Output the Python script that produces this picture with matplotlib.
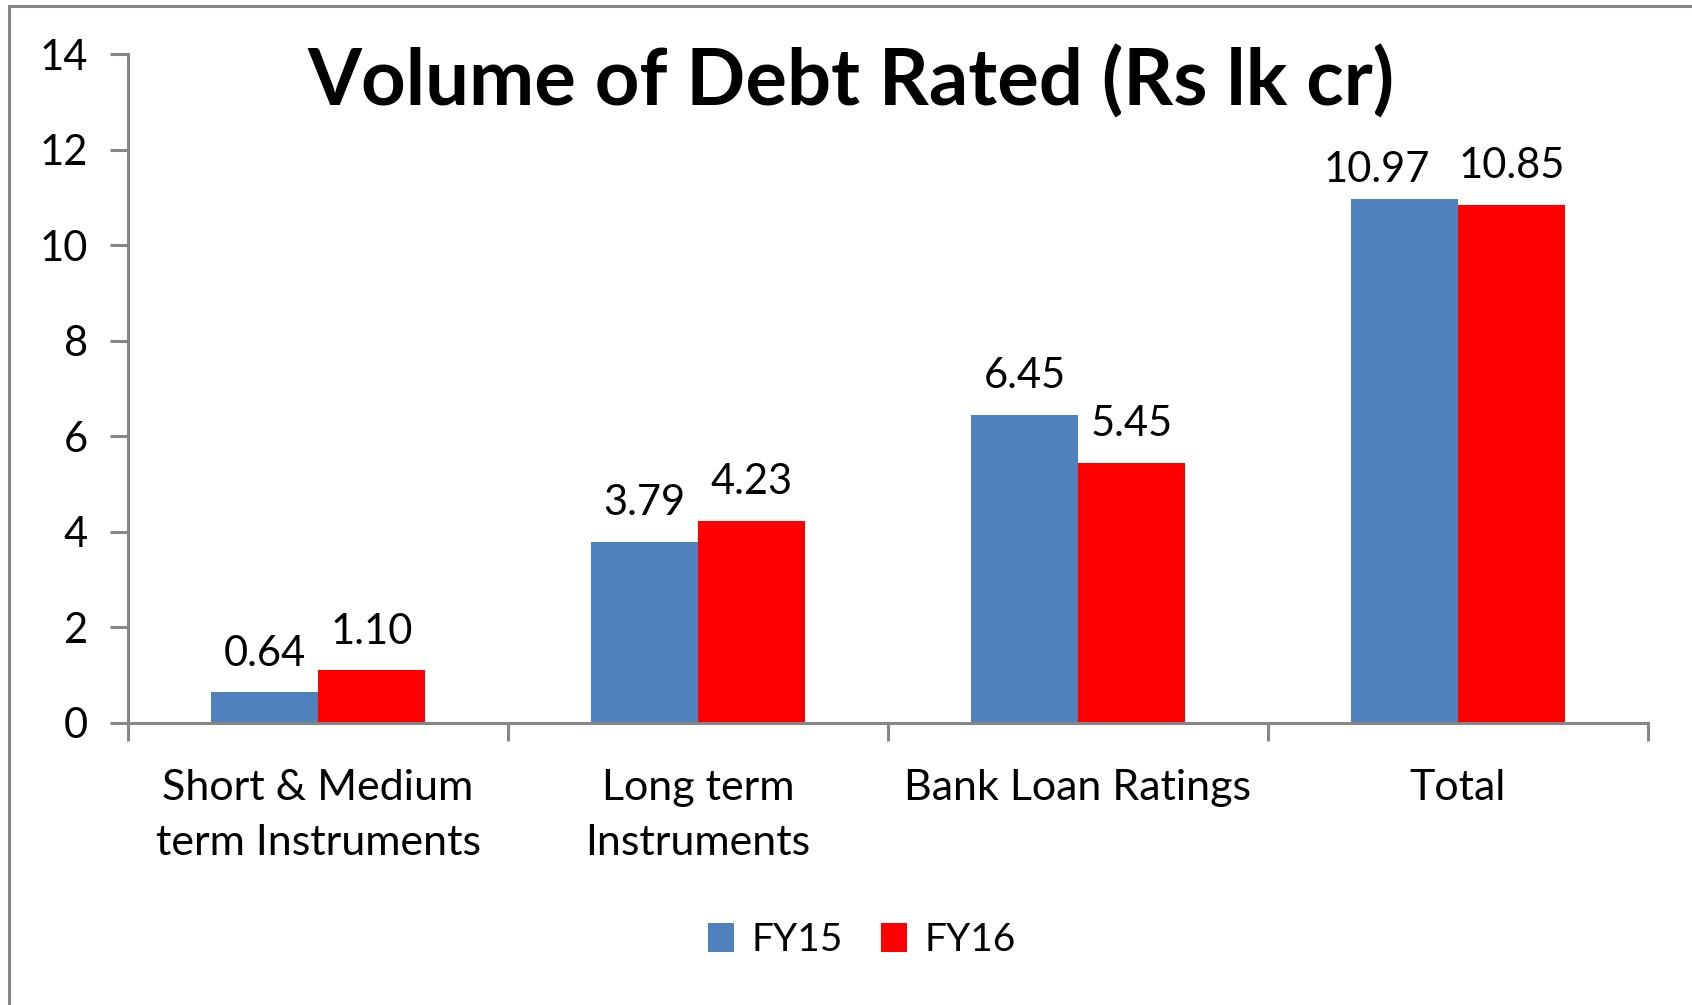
import matplotlib
matplotlib.use("Agg")
import matplotlib.pyplot as plt
import numpy as np
from matplotlib.patches import Rectangle

categories = ["Short & Medium\nterm Instruments", "Long term\nInstruments", "Bank Loan Ratings", "Total"]
fy15 = [0.64, 3.79, 6.45, 10.97]
fy16 = [1.10, 4.23, 5.45, 10.85]
series_names = ["FY15", "FY16"]
yticks = [0, 2, 4, 6, 8, 10, 12, 14]
title = "Volume of Debt Rated (Rs lk cr)"

blue = "#4F81BD"
red = "#FF0000"
axcol = "#868686"
FONT = "Lato"

fig = plt.figure(figsize=(16.92, 10.05), dpi=100)
fig.patch.set_facecolor("white")
# outer chart frame (cropped on right/bottom)
fig.patches.append(Rectangle((9/1692, -0.1), 1.2, 1 - 6/1005 + 0.1, transform=fig.transFigure,
                             fill=False, edgecolor=axcol, linewidth=2.2, zorder=0))

ax = fig.add_axes([128/1692, 1 - 723/1005, (1648 - 128)/1692, (723 - 54)/1005])
x = np.arange(len(categories))
w = 0.282
b1 = ax.bar(x - w/2, fy15, w, color=blue, label=series_names[0], zorder=2)
b2 = ax.bar(x + w/2, fy16, w, color=red, label=series_names[1], zorder=2)

ax.set_xlim(-0.5, len(categories) - 0.5)
ax.set_ylim(0, 14)
ax.set_yticks(yticks)
ax.set_yticklabels([str(t) for t in yticks], fontsize=30, family=FONT)
ax.set_xticks(np.arange(-0.5, len(categories)), minor=False)
ax.set_xticklabels([])
ax.set_xticks(x, minor=True)
ax.set_xticklabels(categories, minor=True, fontsize=31, family=FONT, linespacing=1.55)
ax.tick_params(axis="x", which="minor", length=0, pad=33)
ax.tick_params(axis="x", which="major", length=13, width=2.2, color=axcol, direction="out")
ax.tick_params(axis="y", length=13, width=2.2, color=axcol, pad=16)
for s in ["top", "right"]:
    ax.spines[s].set_visible(False)
for s in ["left", "bottom"]:
    ax.spines[s].set_color(axcol)
    ax.spines[s].set_linewidth(2.2)

for si, (bars, vals) in enumerate(((b1, fy15), (b2, fy16))):
    for ci, (r, v) in enumerate(zip(bars, vals)):
        # Excel nudges the left label of the last pair to avoid overlap
        nudged = (si == 0 and ci == len(vals) - 1)
        dx = -20 if nudged else 0
        dy = 7 if nudged else 14
        ax.annotate(f"{v:.2f}", (r.get_x() + r.get_width()/2, v), xytext=(dx, dy),
                    textcoords="offset points", ha="center", va="bottom",
                    fontsize=30, family=FONT)

fig.text(851/1692, 1 - 82/1005, title, ha="center", va="center", fontsize=56,
         fontweight="bold", family=FONT)

leg = fig.legend(handles=[b1, b2], labels=series_names, loc="center",
                 bbox_to_anchor=(862/1692, 1 - 940/1005), ncol=2, frameon=False,
                 prop={"family": FONT, "size": 28}, handlelength=0.65, handleheight=0.75,
                 handletextpad=0.45, columnspacing=1.0)

fig.savefig("out.png", dpi=100)
